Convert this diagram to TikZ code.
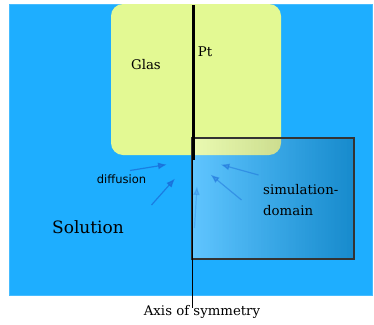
\documentclass[tikz,border=0pt]{standalone}
\usepackage{fontspec}
\setmainfont{DejaVu Serif}
\setsansfont{DejaVu Sans}
\usetikzlibrary{fadings,arrows.meta}
\definecolor{solblue}{RGB}{30,174,255}
\definecolor{soledge}{RGB}{70,188,255}
\definecolor{glasyellow}{RGB}{227,249,147}
\definecolor{arrowblue}{RGB}{25,105,215}
\tikzfading[name=fadeoutright, left color=transparent!0, right color=transparent!100]
\tikzfading[name=fadeoutleft, left color=transparent!100, right color=transparent!0]
\tikzset{
  lbl/.style={font=\fontsize{13.3}{21}\selectfont, inner sep=0pt},
  diffarrow/.style={draw=arrowblue, line width=1.2pt, opacity=0.7, -{Latex[length=9pt,width=7pt]}},
  faintarrow/.style={diffarrow, opacity=0.25},
}
\begin{document}
\begin{tikzpicture}[x=1pt,y=-1pt]
\useasboundingbox (0,0) rectangle (374,324);
% solution
\path[fill=solblue, draw=soledge, line width=0.8pt] (9.5,4.5) rectangle (372.5,295.5);
\node[lbl, font=\fontsize{17}{20}\selectfont] (sol) at (88,227) {Solution};
% glass
\path[fill=glasyellow, rounded corners=12pt] (111,4) rectangle (281,155);
\node[lbl] (glas) at (146,65) {Glas};
\node[lbl] (pt) at (205,52) {Pt};
% simulation domain
\coordinate (dA) at (192,138);
\coordinate (dB) at (354,259);
\fill[white, opacity=0.3, path fading=fadeoutright] (dA) rectangle (dB);
\fill[black, opacity=0.2, path fading=fadeoutleft] (dA) rectangle (dB);
\draw[black!80, line width=1.2pt] (dA) rectangle (dB);
\node[lbl, align=left, anchor=north west] (sim) at (263,184) {simulation-\\domain};
% axis and Pt electrode
\coordinate (ptTop) at (193.5,5);
\coordinate (ptBot) at (193.5,160);
\coordinate (axBot) at (192.5,308);
\draw[line width=3.5pt] (ptTop) -- (ptBot);
\draw[line width=1pt] (192.5,158) -- (axBot);
\node[lbl, anchor=north] (axis) at (202,305) {Axis of symmetry};
% diffusion
\node[lbl, font=\sffamily\fontsize{11.5}{13}\selectfont] (diff) at (121.5,179) {diffusion};
\coordinate (a1s) at (130,170.5); \coordinate (a1e) at (167,164.5);
\coordinate (a2s) at (151.5,205); \coordinate (a2e) at (175,178.5);
\coordinate (a3s) at (258.5,175); \coordinate (a3e) at (220.5,164.5);
\coordinate (a4s) at (241.5,200); \coordinate (a4e) at (210.5,174.5);
\coordinate (a5s) at (194.5,228); \coordinate (a5e) at (197,186);
\draw[diffarrow] (a1s) -- (a1e);
\draw[diffarrow] (a2s) -- (a2e);
\draw[diffarrow, opacity=0.45] (a3s) -- (a3e);
\draw[diffarrow, opacity=0.45] (a4s) -- (a4e);
\draw[faintarrow] (a5s) -- (a5e);
\end{tikzpicture}
\end{document}
